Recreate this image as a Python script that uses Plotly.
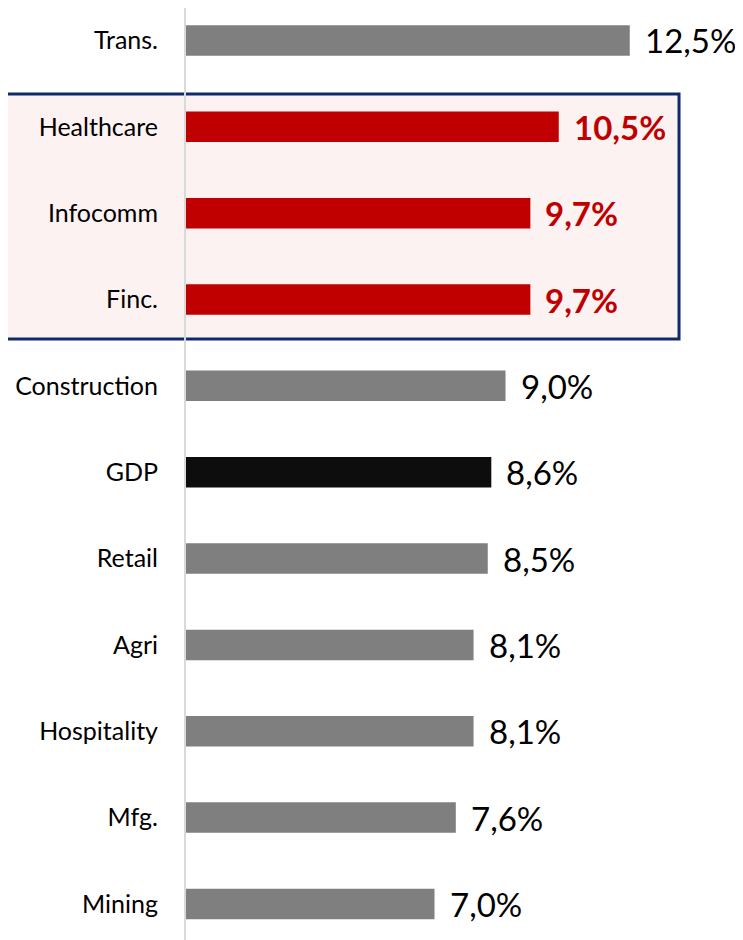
import plotly.graph_objects as go

categories = ["Trans.", "Healthcare", "Infocomm", "Finc.", "Construction", "GDP",
              "Retail", "Agri", "Hospitality", "Mfg.", "Mining"]
values = [12.5, 10.5, 9.7, 9.7, 9.0, 8.6, 8.5, 8.1, 8.1, 7.6, 7.0]
highlight = ["Healthcare", "Infocomm", "Finc."]

GRAY = "#7F7F7F"
RED = "#C00000"
DARK = "#0D0D0D"


def bar_color(c):
    if c in highlight:
        return RED
    if c == "GDP":
        return DARK
    return GRAY


def fmt(v):
    return f"{v:.1f}%".replace(".", ",")


fig = go.Figure(go.Bar(
    x=values, y=categories, orientation="h",
    marker=dict(color=[bar_color(c) for c in categories], line_width=0),
    hoverinfo="skip",
))

for c, v in zip(categories, values):
    hl = c in highlight
    fig.add_annotation(
        x=v, y=c, xref="x", yref="y", text=fmt(v),
        showarrow=False, xanchor="left", yanchor="middle", xshift=13, yshift=0,
        font=dict(family="Lato", size=33,
                  color=RED if hl else "#000000",
                  weight="bold" if hl else "normal"),
    )

# highlight box around the three red sectors (open on the left, runs off the edge)
bx0, bx1, by0, by1 = -0.318, 0.8726, 0.6479, 0.9085
fig.add_shape(type="rect", xref="paper", yref="paper",
              x0=bx0, x1=bx1, y0=by0, y1=by1,
              fillcolor="#FDF2F2", line_width=0, layer="below")
fig.add_shape(type="path", xref="paper", yref="paper",
              path=f"M{bx0},{by1} L{bx1},{by1} L{bx1},{by0} L{bx0},{by0}",
              line=dict(color="#0F2A6B", width=3), layer="below")

fig.update_layout(
    width=743, height=940,
    margin=dict(l=178, r=0, t=0, b=0),
    plot_bgcolor="rgba(0,0,0,0)", paper_bgcolor="white",
    bargap=0.647, showlegend=False,
    font=dict(family="Lato", color="#000000"),
)
fig.update_xaxes(range=[0, 15.915], visible=False, showgrid=False, zeroline=False)
fig.update_yaxes(range=[10.51, -0.376], showgrid=False, zeroline=False,
                 showline=True, linecolor="#D9D9D9", linewidth=2,
                 ticks="", ticklabelstandoff=21,
                 tickfont=dict(family="Lato", size=25, color="#000000"))

fig.write_html("out.html")
